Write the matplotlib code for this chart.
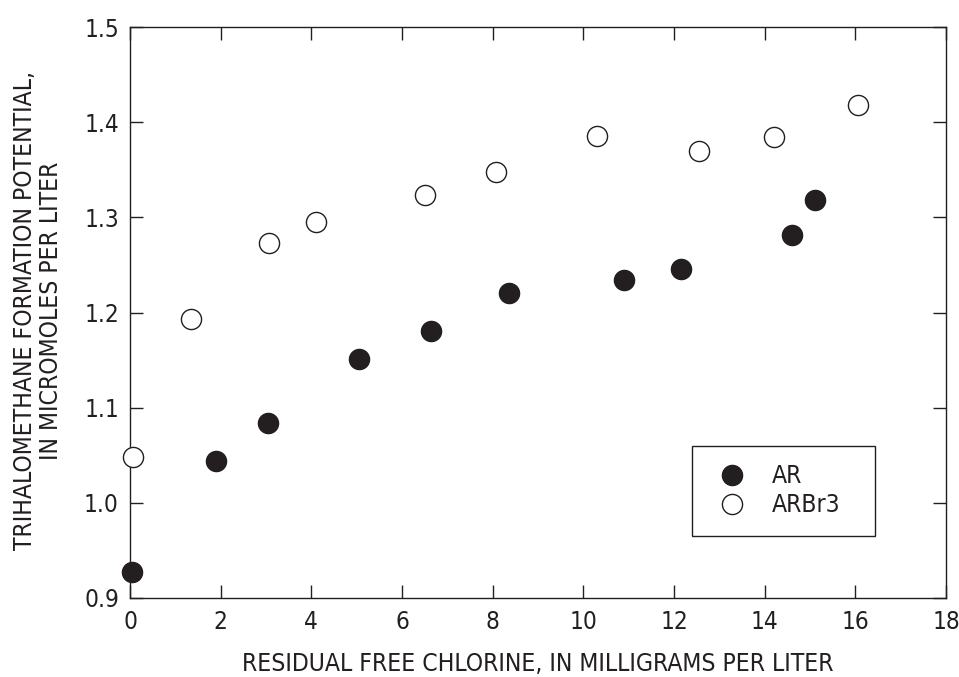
import matplotlib
matplotlib.use('Agg')
import matplotlib.pyplot as plt
from matplotlib.lines import Line2D

plt.rcParams['font.family'] = ['DejaVu Sans']
plt.rcParams['font.stretch'] = 'condensed'

# AR (filled circles)
ar_x = [0.05, 1.9, 3.05, 5.05, 6.65, 8.35, 10.9, 12.15, 14.6, 15.1]
ar_y = [0.927, 1.044, 1.084, 1.151, 1.181, 1.221, 1.234, 1.246, 1.281, 1.318]

# ARBr3 (open circles)
arbr_x = [0.07, 1.35, 3.07, 4.1, 6.5, 8.07, 10.3, 12.55, 14.2, 16.05]
arbr_y = [1.048, 1.193, 1.273, 1.295, 1.324, 1.348, 1.386, 1.370, 1.385, 1.418]

x_ticks = [0, 2, 4, 6, 8, 10, 12, 14, 16, 18]
y_ticks = [0.9, 1.0, 1.1, 1.2, 1.3, 1.4, 1.5]

ink = '#231f20'

fig = plt.figure(figsize=(9.59, 6.77), dpi=100)
ax = fig.add_axes([0.1356, 0.1167, 0.8508, 0.8433])

ax.plot(ar_x, ar_y, 'o', ms=14.5, mfc=ink, mec=ink, mew=1.0, clip_on=False, zorder=3)
ax.plot(arbr_x, arbr_y, 'o', ms=14.5, mfc='white', mec=ink, mew=1.0, clip_on=False, zorder=3)

ax.set_xlim(0, 18)
ax.set_ylim(0.9, 1.5)
ax.set_xticks(x_ticks)
ax.set_yticks(y_ticks)
ax.set_xticklabels([str(t) for t in x_ticks])
ax.set_yticklabels(['%.1f' % t for t in y_ticks])
ax.tick_params(direction='in', length=9.5, width=1.0, color=ink, labelcolor=ink,
               labelsize=17.5, top=True, right=True)
ax.tick_params(axis='x', pad=8.5)
ax.tick_params(axis='y', pad=8)
for s in ax.spines.values():
    s.set_color(ink)
    s.set_linewidth(1.0)

# label positions in pixels of the 959x677 picture
ax.set_xlabel('RESIDUAL FREE CHLORINE, IN MILLIGRAMS PER LITER', fontsize=17.7,
              color=ink)
ax.xaxis.set_label_coords(0.5, (598 - 671) / 571.0)
ax.xaxis.label.set_va('baseline')
ax.set_ylabel('TRIHALOMETHANE FORMATION POTENTIAL,\nIN MICROMOLES PER LITER',
              fontsize=17.7, color=ink, linespacing=1.15)
ax.yaxis.set_label_coords((38 - 130) / 816.0, 0.503)
ax.yaxis.label.set_va('center')

handles = [Line2D([], [], ls='', marker='o', ms=14.5, mfc=ink, mec=ink, mew=1.0),
           Line2D([], [], ls='', marker='o', ms=14.5, mfc='white', mec=ink, mew=1.0)]
leg = ax.legend(handles, ['AR', 'ARBr3'], loc='upper left',
                bbox_to_anchor=(0.6887, 0.1068, 0.2243, 0.1594), mode='expand',
                fontsize=17.7, frameon=True,
                fancybox=False, edgecolor=ink, framealpha=1,
                handletextpad=0.75, borderpad=0.75, labelspacing=0.2,
                borderaxespad=0, handlelength=1.75)
leg.get_frame().set_linewidth(1.0)
for t in leg.get_texts():
    t.set_color(ink)

fig.savefig('out.png', dpi=100)
